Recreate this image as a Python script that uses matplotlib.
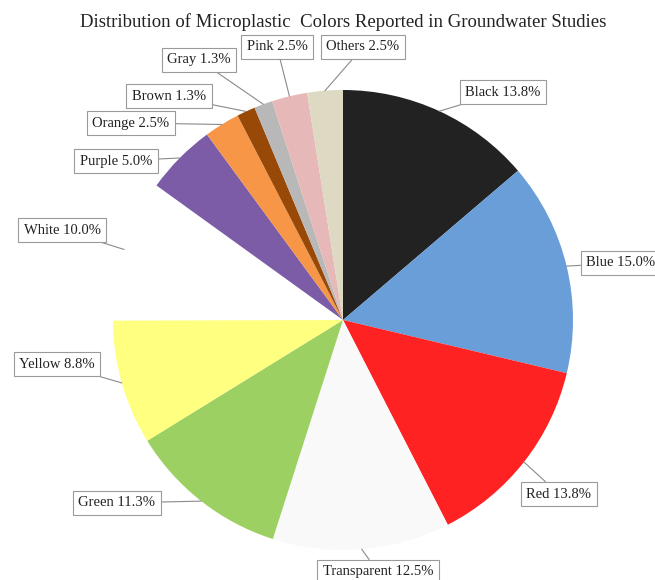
import numpy as np
import matplotlib.pyplot as plt

# Microplastic colour shares (%), clockwise from 12 o'clock
labels = ['Black', 'Blue', 'Red', 'Transparent', 'Green', 'Yellow', 'White',
          'Purple', 'Orange', 'Brown', 'Gray', 'Pink', 'Others']
shares = [13.8, 15.0, 13.8, 12.5, 11.3, 8.8, 10.0, 5.0, 2.5, 1.3, 1.3, 2.5, 2.5]
colors = ['#222222', '#6a9ed9', '#fe2222', '#f9f9f9', '#9dd062', '#ffff80', '#ffffff',
          '#7c5ca6', '#f79646', '#984807', '#b8b8b8', '#e6b9b8', '#ddd9c3']

# label box centres in pixel space (x right, y down)
label_pos = [(503, 92), (621, 263), (559, 494), (378, 572), (117, 503), (57, 364),
             (62, 230), (116, 161), (131, 123), (169, 96), (199, 60), (277, 47), (363, 47)]

W, H = 655, 580
fig = plt.figure(figsize=(W / 100, H / 100), dpi=100)
ax = fig.add_axes([0, 0, 1, 1])

cx, cy, r = 343, H - 320, 230
wedges, _ = ax.pie(shares, colors=colors, startangle=90, counterclock=False,
                   center=(cx, cy), radius=r, wedgeprops=dict(edgecolor='none'),
                   frame=True)
ax.set_xlim(0, W)
ax.set_ylim(0, H)
ax.axis('off')

for w, name, val, (px, py) in zip(wedges, labels, shares, label_pos):
    ang = np.deg2rad((w.theta1 + w.theta2) / 2)
    xy = (cx + r * np.cos(ang), cy + r * np.sin(ang))
    ax.annotate(f'{name} {val:.1f}%', xy=xy, xytext=(px, H - py),
                ha='center', va='center', fontsize=10.5, family='Liberation Serif',
                color='#222222',
                bbox=dict(boxstyle='square,pad=0.38', fc='white', ec='#9a9a9a', lw=0.8),
                arrowprops=dict(arrowstyle='-', color='#8a8a8a', lw=0.8,
                                shrinkA=0, shrinkB=0))

ax.text(343, H - 22, 'Distribution of Microplastic  Colors Reported in Groundwater Studies',
        ha='center', va='center', fontsize=13.5, family='Liberation Serif', color='#222222')

fig.savefig('out.png', dpi=100)
